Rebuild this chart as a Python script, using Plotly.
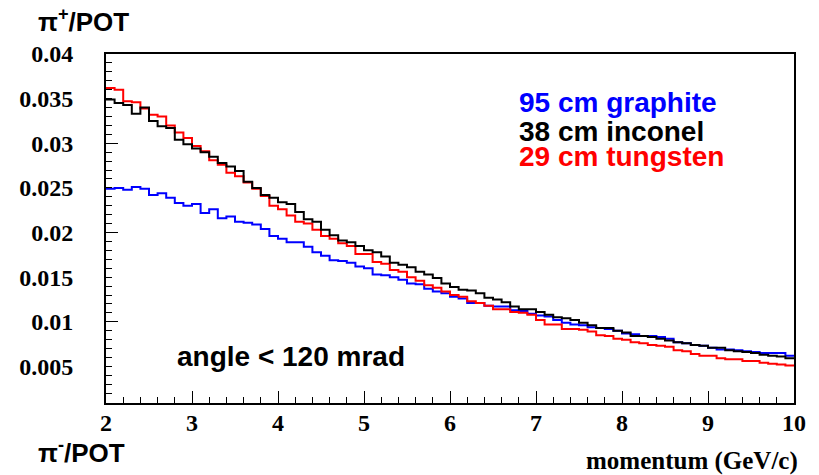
import numpy as np
import plotly.graph_objects as go

# Momentum binning: 80 bins of 0.1 GeV/c between 2 and 10 GeV/c
p_min, p_max, n_bins = 2.0, 10.0, 80
edges = np.linspace(p_min, p_max, n_bins + 1)

# pi+/POT per momentum bin, angle < 120 mrad
graphite_95cm = [
    0.0249, 0.0250, 0.0248, 0.0251, 0.0249, 0.0242, 0.0244, 0.0239, 0.0233, 0.0230,
    0.0232, 0.0222, 0.0226, 0.0216, 0.0218, 0.0212, 0.0211, 0.0209, 0.0204, 0.0196,
    0.0193, 0.0189, 0.0189, 0.0184, 0.0178, 0.0174, 0.0169, 0.0168, 0.0166, 0.0162,
    0.0160, 0.0153, 0.0152, 0.0150, 0.0147, 0.0143, 0.0142, 0.0137, 0.0134, 0.0132,
    0.0128, 0.0126, 0.0121, 0.0121, 0.0118, 0.0117, 0.0117, 0.0113, 0.0112, 0.0109,
    0.0107, 0.0106, 0.0102, 0.0099, 0.0097, 0.0096, 0.0094, 0.0093, 0.0092, 0.0090,
    0.0087, 0.0086, 0.0084, 0.0084, 0.0083, 0.0081, 0.0077, 0.0076, 0.0074, 0.0073,
    0.0071, 0.0069, 0.0069, 0.0068, 0.0067, 0.0066, 0.0065, 0.0065, 0.0065, 0.0062,
]
inconel_38cm = [
    0.0349, 0.0345, 0.0343, 0.0333, 0.0340, 0.0325, 0.0319, 0.0317, 0.0304, 0.0299,
    0.0294, 0.0290, 0.0285, 0.0278, 0.0274, 0.0269, 0.0257, 0.0250, 0.0242, 0.0239,
    0.0234, 0.0232, 0.0223, 0.0215, 0.0212, 0.0203, 0.0197, 0.0191, 0.0189, 0.0185,
    0.0180, 0.0178, 0.0173, 0.0166, 0.0164, 0.0161, 0.0156, 0.0153, 0.0149, 0.0143,
    0.0139, 0.0136, 0.0135, 0.0132, 0.0127, 0.0125, 0.0122, 0.0117, 0.0114, 0.0114,
    0.0111, 0.0108, 0.0105, 0.0104, 0.0102, 0.0099, 0.0096, 0.0093, 0.0093, 0.0090,
    0.0088, 0.0084, 0.0084, 0.0083, 0.0081, 0.0079, 0.0077, 0.0076, 0.0074, 0.0073,
    0.0071, 0.0071, 0.0068, 0.0067, 0.0066, 0.0065, 0.0063, 0.0062, 0.0061, 0.0059,
]
tungsten_29cm = [
    0.0362, 0.0360, 0.0347, 0.0346, 0.0339, 0.0332, 0.0330, 0.0320, 0.0312, 0.0306,
    0.0297, 0.0291, 0.0281, 0.0276, 0.0267, 0.0263, 0.0256, 0.0249, 0.0241, 0.0230,
    0.0226, 0.0219, 0.0212, 0.0210, 0.0203, 0.0196, 0.0193, 0.0188, 0.0185, 0.0176,
    0.0176, 0.0167, 0.0165, 0.0158, 0.0156, 0.0150, 0.0146, 0.0141, 0.0138, 0.0134,
    0.0130, 0.0128, 0.0123, 0.0121, 0.0118, 0.0114, 0.0114, 0.0111, 0.0110, 0.0108,
    0.0102, 0.0097, 0.0097, 0.0092, 0.0092, 0.0091, 0.0089, 0.0085, 0.0084, 0.0081,
    0.0080, 0.0077, 0.0076, 0.0074, 0.0073, 0.0072, 0.0068, 0.0067, 0.0064, 0.0062,
    0.0062, 0.0059, 0.0058, 0.0058, 0.0056, 0.0056, 0.0054, 0.0053, 0.0052, 0.0051,
]

series = [
    ("95 cm graphite", graphite_95cm, "#0000ff"),
    ("29 cm tungsten", tungsten_29cm, "#ff0000"),
    ("38 cm inconel", inconel_38cm, "#000000"),
]

y_ticks = [0.005, 0.01, 0.015, 0.02, 0.025, 0.03, 0.035, 0.04]
y_tick_text = ["0.005", "0.01", "0.015", "0.02", "0.025", "0.03", "0.035", "0.04"]
x_ticks = [2, 3, 4, 5, 6, 7, 8, 9, 10]

fig = go.Figure()
for name, vals, color in series:
    # step outline: repeat the last content so the final bin reaches the upper edge
    fig.add_trace(go.Scatter(
        x=edges, y=list(vals) + [vals[-1]], mode="lines", name=name,
        line=dict(color=color, width=2, shape="hv"), showlegend=False,
        hoverinfo="skip",
    ))

# invisible trace on the secondary y axis so its long ticks are drawn
fig.add_trace(go.Scatter(x=[p_min], y=[0.02], yaxis="y2", mode="markers",
                         marker=dict(opacity=0), showlegend=False, hoverinfo="skip"))

y_range = [0.0009, 0.0400]
tick_font = dict(family="Liberation Serif", size=24, color="black", weight="bold")

fig.update_layout(
    width=819, height=475,
    margin=dict(l=106, r=25, t=54, b=72),
    paper_bgcolor="white", plot_bgcolor="white",
    xaxis=dict(
        range=[p_min, p_max], tickvals=x_ticks, ticks="inside", ticklen=12,
        tickwidth=1, tickcolor="black", showgrid=False, zeroline=False,
        showline=True, linecolor="black", linewidth=2, mirror=True,
        tickfont=tick_font, ticklabelstandoff=-3,
        minor=dict(dtick=0.2, ticks="inside", ticklen=6, tickcolor="black", tickwidth=1, showgrid=False),
    ),
    yaxis=dict(
        range=y_range, tickvals=y_ticks, ticktext=y_tick_text, ticks="inside", ticklen=6,
        tickwidth=1, tickcolor="black", showgrid=False, zeroline=False,
        showline=True, linecolor="black", linewidth=2, mirror=True,
        tickfont=tick_font, ticklabelstandoff=26,
        minor=dict(dtick=0.001, tick0=0, ticks="inside", ticklen=6, tickcolor="black", tickwidth=1, showgrid=False),
    ),
    yaxis2=dict(
        range=y_range, overlaying="y", side="left", tickvals=[0.01, 0.02, 0.03, 0.04],
        ticks="inside", ticklen=12, tickwidth=1, tickcolor="black",
        showticklabels=False, showgrid=False, zeroline=False, showline=False,
    ),
)

sans = "Liberation Sans"
annotations = [
    dict(text="<b>95 cm graphite</b>", x=0.597, y=0.860, color="#0000ff", size=28, anchor="left"),
    dict(text="<b>38 cm inconel</b>", x=0.597, y=0.779, color="#000000", size=28, anchor="left"),
    dict(text="<b>29 cm tungsten</b>", x=0.597, y=0.705, color="#ff0000", size=28, anchor="left"),
    dict(text="<b>angle &lt; 120 mrad</b>", x=0.100, y=0.132, color="#000000", size=28, anchor="left"),
    dict(text="<b>π<sup>+</sup>/POT</b>", x=-0.102, y=1.097, color="#000000", size=26, anchor="left"),
    dict(text="<b>π<sup>-</sup>/POT</b>", x=-0.102, y=-0.140, color="#000000", size=26, anchor="left"),
]
for a in annotations:
    fig.add_annotation(
        text=a["text"], xref="paper", yref="paper", x=a["x"], y=a["y"],
        xanchor=a["anchor"], yanchor="middle", showarrow=False,
        font=dict(family=sans, size=a["size"], color=a["color"]),
    )

fig.add_annotation(
    text="<b>momentum (GeV/c)</b>", xref="paper", yref="paper", x=1.008, y=-0.166,
    xanchor="right", yanchor="middle", showarrow=False,
    font=dict(family="Liberation Serif", size=25, color="black"),
)

fig.write_html("out.html")
